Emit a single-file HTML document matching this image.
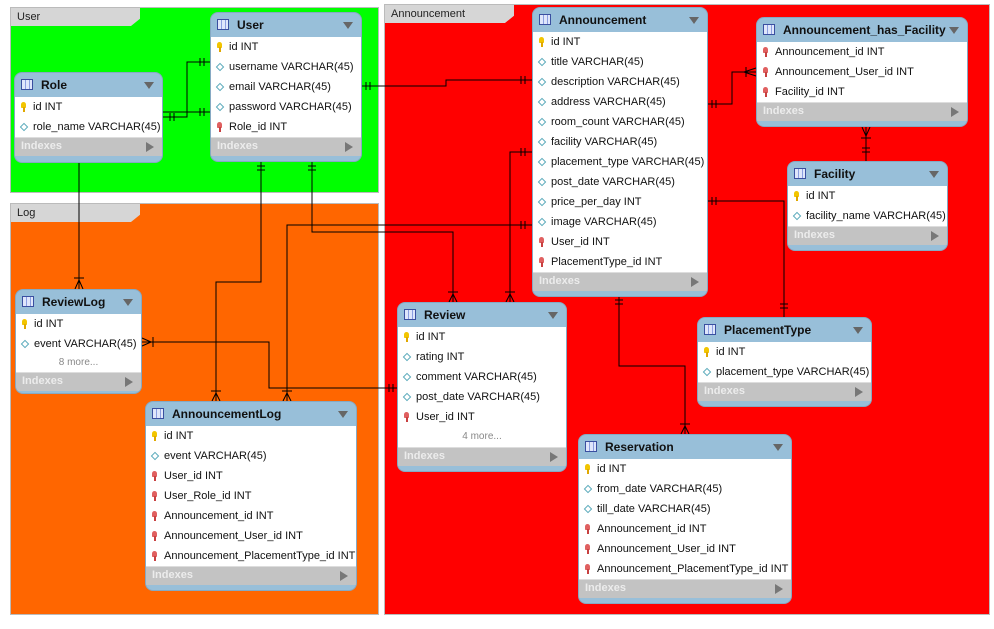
<!DOCTYPE html>
<html><head><meta charset="utf-8"><style>
body{margin:0;width:994px;height:629px;background:#fff;position:relative;overflow:hidden;font-family:"Liberation Sans",sans-serif;}
.reg{position:absolute;border:1px solid #bbb;}
.tab{position:absolute;background:#d6d6d6;font-size:11px;color:#222;padding:3px 0 0 6px;box-sizing:border-box;height:18px;clip-path:polygon(0 0,100% 0,100% 60%,93% 100%,0 100%);}
.t{position:absolute;background:#98bfd9;border-radius:8px;overflow:hidden;border:1px solid #86a9c3;box-sizing:border-box;}
.h{height:24px;position:relative;font-weight:bold;font-size:12px;color:#111;line-height:24px;padding-left:26px;}
.h:before{content:"";position:absolute;left:6px;top:6px;width:12px;height:11px;border:1px solid #3a4fa0;background:repeating-linear-gradient(90deg,#dfe6fb 0 3px,#8c9ee0 3px 4px);box-sizing:border-box;}
.h:after{content:"";position:absolute;right:8px;top:9px;border-left:5px solid transparent;border-right:5px solid transparent;border-top:7px solid #666;}
.b{background:#fff;}
.r{height:20px;line-height:20px;font-size:11px;color:#111;padding-left:18px;position:relative;white-space:nowrap;}
.r.k:before{content:"";position:absolute;left:6px;top:5px;width:5px;height:6px;border-radius:3px 3px 1px 1px;background:#f2c500;}
.r.k:after{content:"";position:absolute;left:8px;top:10px;width:2px;height:5px;background:#e0a800;}
.r.f:before{content:"";position:absolute;left:6px;top:5px;width:5px;height:6px;border-radius:3px 3px 1px 1px;background:#e06060;}
.r.f:after{content:"";position:absolute;left:8px;top:10px;width:2px;height:5px;background:#c84040;}
.r.d:before{content:"";position:absolute;left:6px;top:7px;width:5px;height:5px;border:1px solid #5aaabb;transform:rotate(45deg);box-sizing:border-box;width:6px;height:6px;}
.m{height:18px;line-height:18px;font-size:10px;color:#888;text-align:center;}
.i{height:18px;line-height:17px;background:#c3c3c3;font-size:11px;font-weight:bold;color:#ececec;padding-left:6px;position:relative;border-top:1px solid #ddd;}
.i:after{content:"";position:absolute;right:8px;top:4px;border-top:5px solid transparent;border-bottom:5px solid transparent;border-left:8px solid #777;}
svg{position:absolute;left:0;top:0;}
</style></head><body>
<div class="reg" style="left:10px;top:7px;width:367px;height:184px;background:#00ff00"></div>
<div class="tab" style="left:11px;top:8px;width:129px;">User</div>
<div class="reg" style="left:10px;top:203px;width:367px;height:410px;background:#ff6600"></div>
<div class="tab" style="left:11px;top:204px;width:129px;">Log</div>
<div class="reg" style="left:384px;top:4px;width:604px;height:609px;background:#ff0000"></div>
<div class="tab" style="left:385px;top:5px;width:129px;">Announcement</div>

<svg width="994" height="629" fill="none" stroke="#000" stroke-width="1">
<path d="M163 112H210M163 117H187V62H210"/>
<path d="M362 86H446V80H532"/>
<path d="M261 162V282H216V401"/>
<path d="M312 162V232H453V302"/>
<path d="M287 401V225H532"/>
<path d="M532 152H510V302"/>
<path d="M79 163V289"/>
<path d="M142 342H269V388H397"/>
<path d="M708 104H732V72H756"/>
<path d="M708 201H784V317"/>
<path d="M866 127V161"/>
<path d="M619 297V366H685V434"/>
<path d="M200 58v8M204 58v8M200 108v8M204 108v8M170 113v8M174 113v8M366 82v8M370 82v8M521 76v8M525 76v8M521 148v8M525 148v8M521 221v8M525 221v8M712 100v8M716 100v8M712 197v8M716 197v8M257 166h8M257 170h8M308 166h8M308 170h8M615 300h8M615 304h8M862 148h8M862 152h8M780 304h8M780 308h8M393 384v8M389 384v8"/>
<path d="M74 278h10M79 280L75 289M79 280L83 289M211 391h10M216 393L212 401M216 393L220 401M282 391h10M287 393L283 401M287 393L291 401M448 292h10M453 294L449 302M453 294L457 302M505 292h10M510 294L506 302M510 294L514 302M680 424h10M685 426L681 434M685 426L689 434M153 337v10M151 342L142 338M151 342L142 346M746 67v10M744 72L756 68M744 72L756 76M861 138h10M866 136L862 127M866 136L870 127"/>
</svg>

<div class="t" style="left:14px;top:72px;width:149px;height:91px"><div class="h">Role</div><div class="b"><div class="r k">id INT</div><div class="r d">role_name VARCHAR(45)</div></div><div class="i">Indexes</div></div>

<div class="t" style="left:210px;top:12px;width:152px;height:150px"><div class="h">User</div><div class="b"><div class="r k">id INT</div><div class="r d">username VARCHAR(45)</div><div class="r d">email VARCHAR(45)</div><div class="r d">password VARCHAR(45)</div><div class="r f">Role_id INT</div></div><div class="i">Indexes</div></div>

<div class="t" style="left:532px;top:7px;width:176px;height:290px"><div class="h">Announcement</div><div class="b"><div class="r k">id INT</div><div class="r d">title VARCHAR(45)</div><div class="r d">description VARCHAR(45)</div><div class="r d">address VARCHAR(45)</div><div class="r d">room_count VARCHAR(45)</div><div class="r d">facility VARCHAR(45)</div><div class="r d">placement_type VARCHAR(45)</div><div class="r d">post_date VARCHAR(45)</div><div class="r d">price_per_day INT</div><div class="r d">image VARCHAR(45)</div><div class="r f">User_id INT</div><div class="r f">PlacementType_id INT</div></div><div class="i">Indexes</div></div>

<div class="t" style="left:756px;top:17px;width:212px;height:110px"><div class="h">Announcement_has_Facility</div><div class="b"><div class="r f">Announcement_id INT</div><div class="r f">Announcement_User_id INT</div><div class="r f">Facility_id INT</div></div><div class="i">Indexes</div></div>

<div class="t" style="left:787px;top:161px;width:161px;height:90px"><div class="h">Facility</div><div class="b"><div class="r k">id INT</div><div class="r d">facility_name VARCHAR(45)</div></div><div class="i">Indexes</div></div>

<div class="t" style="left:697px;top:317px;width:175px;height:90px"><div class="h">PlacementType</div><div class="b"><div class="r k">id INT</div><div class="r d">placement_type VARCHAR(45)</div></div><div class="i">Indexes</div></div>

<div class="t" style="left:15px;top:289px;width:127px;height:105px"><div class="h">ReviewLog</div><div class="b"><div class="r k">id INT</div><div class="r d">event VARCHAR(45)</div><div class="m">8 more...</div></div><div class="i">Indexes</div></div>

<div class="t" style="left:397px;top:302px;width:170px;height:170px"><div class="h">Review</div><div class="b"><div class="r k">id INT</div><div class="r d">rating INT</div><div class="r d">comment VARCHAR(45)</div><div class="r d">post_date VARCHAR(45)</div><div class="r f">User_id INT</div><div class="m" style="height:20px;line-height:20px">4 more...</div></div><div class="i">Indexes</div></div>

<div class="t" style="left:145px;top:401px;width:212px;height:190px"><div class="h">AnnouncementLog</div><div class="b"><div class="r k">id INT</div><div class="r d">event VARCHAR(45)</div><div class="r f">User_id INT</div><div class="r f">User_Role_id INT</div><div class="r f">Announcement_id INT</div><div class="r f">Announcement_User_id INT</div><div class="r f">Announcement_PlacementType_id INT</div></div><div class="i">Indexes</div></div>

<div class="t" style="left:578px;top:434px;width:214px;height:170px"><div class="h">Reservation</div><div class="b"><div class="r k">id INT</div><div class="r d">from_date VARCHAR(45)</div><div class="r d">till_date VARCHAR(45)</div><div class="r f">Announcement_id INT</div><div class="r f">Announcement_User_id INT</div><div class="r f">Announcement_PlacementType_id INT</div></div><div class="i">Indexes</div></div>
</body></html>
